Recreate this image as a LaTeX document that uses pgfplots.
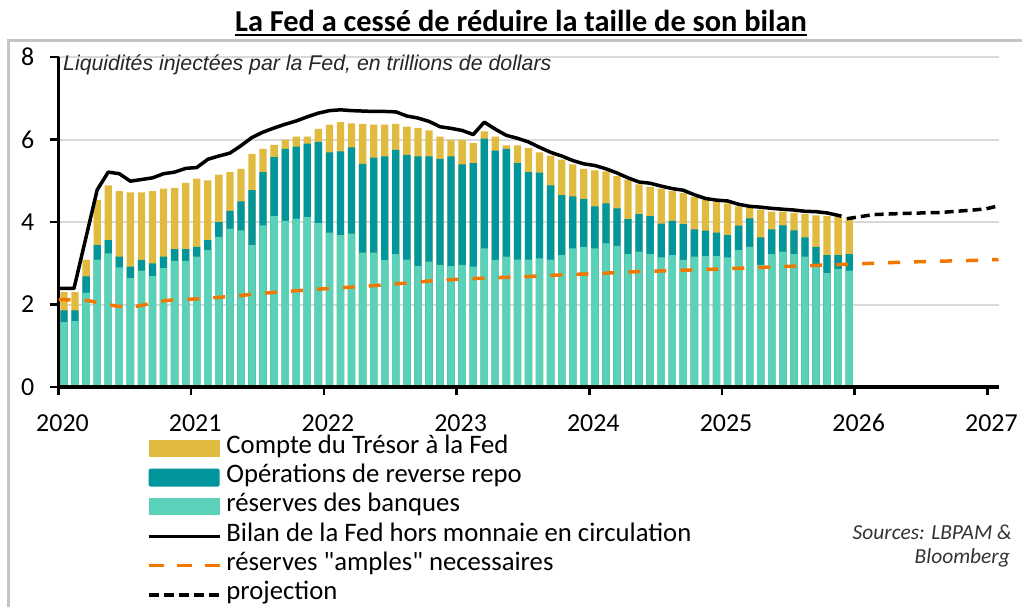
\documentclass[border=0pt]{standalone}
\usepackage{fontspec}
\setmainfont{Carlito}
\newfontfamily\arialfont{Liberation Sans}
\usepackage{pgfplots}
\pgfplotsset{compat=1.18}
\usepackage{pgfplotstable}

\definecolor{cyellow}{HTML}{E1BB40}
\definecolor{cteal}{HTML}{00969B}
\definecolor{cgreen}{HTML}{5AD2B9}
\definecolor{corange}{HTML}{F07800}
\definecolor{cgrid}{HTML}{D9D9D9}
\definecolor{cframe}{HTML}{C4C4C4}
\newcommand{\dq}{\XeTeXglyph\XeTeXcharglyph34\relax}

% x = month index (0 = Jan 2020), g = reserves, t = top of reverse repo, y = top of TGA
\pgfplotstableread{
x g t y
0.5 1.57 1.86 2.30
1.5 1.60 1.86 2.30
2.5 2.29 2.68 3.09
3.5 3.09 3.44 4.53
4.5 3.24 3.56 4.89
5.5 2.90 3.16 4.75
6.5 2.64 2.92 4.72
7.5 2.82 3.08 4.72
8.5 2.69 3.00 4.75
9.5 2.88 3.16 4.81
10.5 3.06 3.34 4.83
11.5 3.06 3.34 4.95
12.5 3.16 3.40 5.05
13.5 3.32 3.56 5.01
14.5 3.64 4.00 5.15
15.5 3.84 4.27 5.21
16.5 3.80 4.50 5.29
17.5 3.44 4.77 5.65
18.5 3.92 5.21 5.77
19.5 4.14 5.57 5.87
20.5 4.03 5.77 5.99
21.5 4.08 5.83 6.07
22.5 4.12 5.90 6.07
23.5 3.97 5.94 6.26
24.5 3.74 5.69 6.36
25.5 3.68 5.71 6.42
26.5 3.72 5.81 6.39
27.5 3.26 5.41 6.38
28.5 3.26 5.56 6.36
29.5 3.08 5.59 6.36
30.5 3.22 5.75 6.38
31.5 3.09 5.63 6.31
32.5 2.93 5.59 6.28
33.5 3.04 5.59 6.22
34.5 2.96 5.53 6.07
35.5 2.93 5.59 5.99
36.5 2.96 5.40 5.99
37.5 2.92 5.43 5.91
38.5 3.36 6.02 6.20
39.5 3.08 5.73 6.07
40.5 3.16 5.77 5.86
41.5 3.09 5.43 5.86
42.5 3.09 5.21 5.79
43.5 3.12 5.20 5.69
44.5 3.09 4.89 5.61
45.5 3.20 4.65 5.51
46.5 3.36 4.62 5.40
47.5 3.40 4.56 5.29
48.5 3.36 4.38 5.25
49.5 3.48 4.45 5.23
50.5 3.42 4.33 5.11
51.5 3.22 4.07 5.03
52.5 3.28 4.19 4.91
53.5 3.22 4.14 4.85
54.5 3.14 3.96 4.81
55.5 3.20 4.03 4.75
56.5 3.08 3.95 4.70
57.5 3.16 3.82 4.61
58.5 3.17 3.79 4.54
59.5 3.17 3.74 4.49
60.5 3.14 3.68 4.45
61.5 3.32 3.91 4.38
62.5 3.40 4.09 4.35
63.5 2.96 3.63 4.30
64.5 3.22 3.82 4.25
65.5 3.28 3.92 4.25
66.5 3.22 3.80 4.22
67.5 3.16 3.63 4.19
68.5 2.96 3.40 4.16
69.5 2.76 3.20 4.14
70.5 2.86 3.20 4.12
71.5 2.82 3.22 4.11
}\bars

\pgfplotstableread{
x v
0 2.39
1.4 2.39
3.5 4.78
4.5 5.21
5.5 5.17
6.5 4.99
7.5 5.03
8.5 5.07
9.5 5.17
10.5 5.21
11.5 5.30
12.5 5.32
13.5 5.52
14.5 5.60
15.5 5.67
16.5 5.85
17.5 6.05
18.5 6.18
19.5 6.28
20.5 6.37
21.5 6.45
22.5 6.55
23.5 6.64
24.5 6.70
25.5 6.72
26.5 6.70
27.5 6.69
28.5 6.68
29.5 6.68
30.5 6.67
31.5 6.57
32.5 6.52
33.5 6.44
34.5 6.31
35.5 6.27
36.5 6.22
37.5 6.12
38.5 6.42
39.5 6.25
40.5 6.10
41.5 6.03
42.5 5.94
43.5 5.81
44.5 5.69
45.5 5.60
46.5 5.49
47.5 5.41
48.5 5.37
49.5 5.29
50.5 5.19
51.5 5.07
52.5 4.97
53.5 4.94
54.5 4.87
55.5 4.81
56.5 4.77
57.5 4.66
58.5 4.57
59.5 4.53
60.5 4.51
61.5 4.43
62.5 4.38
63.5 4.36
64.5 4.33
65.5 4.31
66.5 4.29
67.5 4.26
68.5 4.25
69.5 4.22
70.5 4.16
70.8 4.14
}\bilan

\pgfplotstableread{
x v
71.3 4.08
73.7 4.18
76.7 4.21
79.7 4.23
82.7 4.29
83.9 4.32
84.8 4.38
}\proj

\pgfplotstableread{
x v
0 2.12
2.55 2.10
5.26 1.96
6.76 1.94
9.78 2.10
12.8 2.14
15.8 2.20
18.8 2.28
21.8 2.34
24.5 2.39
27.6 2.44
30.6 2.50
33.6 2.57
36.6 2.62
39.6 2.65
42.6 2.68
45.6 2.72
48.7 2.75
51.7 2.79
55.3 2.82
58.6 2.85
64.6 2.91
70.7 2.97
73.7 3.00
76.7 3.03
82.8 3.07
85 3.09
}\amples

\begin{document}
\begin{tikzpicture}
\useasboundingbox (0,0) rectangle (1022bp,607bp);
\draw[cframe, line width=3bp] (8bp,-10bp) -- (8bp,566.5bp) -- (1040bp,566.5bp);
\node[anchor=base, inner sep=0pt, font=\fontsize{30.5}{36}\selectfont\bfseries] (T) at (521bp,575.5bp) {La Fed a cessé de réduire la taille de son bilan};
\draw[line width=2bp] ([yshift=-3.5bp]T.base west) -- ([yshift=-3.5bp]T.base east);

\begin{axis}[
  at={(58.5bp,220bp)}, anchor=south west,
  scale only axis, width=940bp, height=330bp,
  xmin=0, xmax=85, ymin=0, ymax=8,
  axis x line*=bottom, axis y line*=left,
  axis line style={line width=3bp, black},
  xtick={0,12,...,84}, xticklabels={2020,2021,2022,2023,2024,2025,2026,2027},
  ytick={0,2,4,6,8},
  tick align=outside, major tick length=8bp,
  tick style={line width=2.5bp, black},
  ymajorgrids, grid style={cgrid, line width=2bp},
  /pgf/number format/assume math mode=true,
  xticklabel style={font=\fontsize{26}{30}\selectfont, anchor=north, inner sep=0pt, xshift=4bp, yshift=-19bp},
  yticklabel style={font=\fontsize{26}{30}\selectfont, anchor=east, inner sep=0pt, xshift=-16bp},
  legend style={at={(axis description cs:0.0941,-0.1458)}, anchor=north west, draw=none, fill=none,
    inner sep=0pt, outer sep=0pt, row sep=3bp, column sep=4bp,
    font=\fontsize{26.8}{30}\selectfont,
    nodes={inner sep=1bp, text height=17bp, text depth=7.34bp}},
  legend cell align=left,
]
\addplot[ybar, bar width=0.66, bar shift=0pt, fill=cyellow, draw=none,
  legend image code/.code={\fill[cyellow] (0bp,-8.5bp) rectangle (71bp,8.5bp);}]
  table[x=x, y=y]{\bars};
\addlegendentry{Compte du Trésor à la Fed}
\addplot[ybar, bar width=0.66, bar shift=0pt, fill=cteal, draw=none,
  legend image code/.code={\fill[cteal, rounded corners=2bp] (0bp,-9bp) rectangle (71bp,9bp);}]
  table[x=x, y=t]{\bars};
\addlegendentry{Opérations de reverse repo}
\addplot[ybar, bar width=0.66, bar shift=0pt, fill=cgreen, draw=none,
  legend image code/.code={\fill[cgreen] (0bp,-8.5bp) rectangle (71bp,8.5bp);}]
  table[x=x, y=g]{\bars};
\addlegendentry{réserves des banques}
\addplot[black, line width=3.5bp, line join=round,
  legend image code/.code={\draw[black, line width=3.5bp] (0bp,0bp) -- (71bp,0bp);}]
  table[x=x, y=v]{\bilan};
\addlegendentry{Bilan de la Fed hors monnaie en circulation}
\addplot[corange, line width=3.5bp, dash pattern=on 12bp off 14bp,
  legend image code/.code={\draw[corange, line width=3.5bp, dash pattern=on 15bp off 13bp] (0bp,0bp) -- (71bp,0bp);}]
  table[x=x, y=v]{\amples};
\addlegendentry{réserves \dq amples\dq{} necessaires}
\addplot[black, line width=3.5bp, dash pattern=on 9bp off 5bp,
  legend image code/.code={\draw[black, line width=3.5bp, dash pattern=on 10bp off 5bp] (0bp,0bp) -- (71bp,0bp);}]
  table[x=x, y=v]{\proj};
\addlegendentry{projection}
\coordinate (xa) at (axis cs:0,0);
\coordinate (xb) at (axis cs:85,0);
\end{axis}
\draw[line width=3bp, black] (xa) -- (xb);

\node[anchor=base west, inner sep=0pt, font=\arialfont\itshape\fontsize{21.4}{24}\selectfont, text=black!85] at (63bp,536bp) {Liquidités injectées par la Fed, en trillions de dollars};
\node[anchor=base east, inner sep=0pt, font=\fontsize{21.5}{24}\selectfont\itshape, text=black!80] at (1012bp,67bp) {Sources: LBPAM \&};
\node[anchor=base east, inner sep=0pt, font=\fontsize{21.5}{24}\selectfont\itshape, text=black!80] at (1010bp,43bp) {Bloomberg};
\end{tikzpicture}
\end{document}
